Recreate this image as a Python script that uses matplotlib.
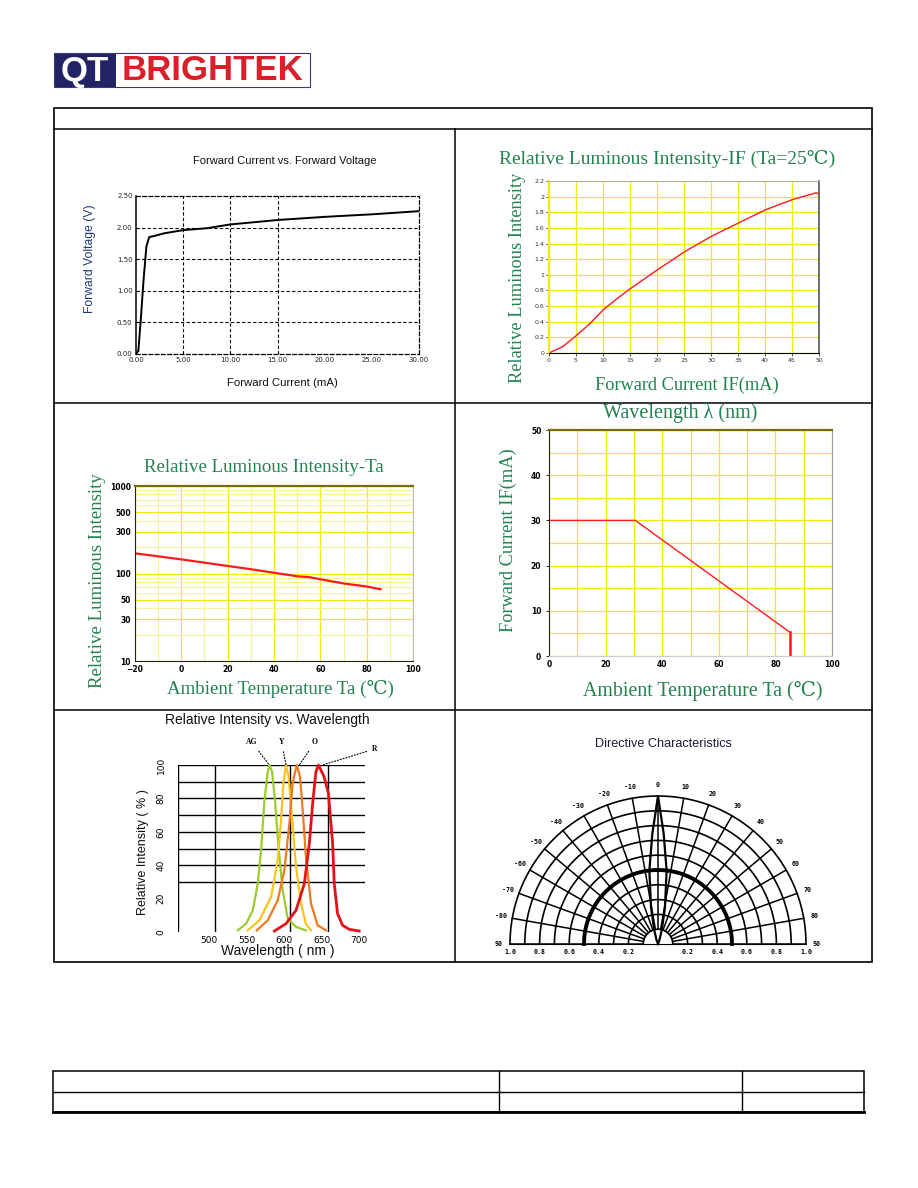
import numpy as np
import matplotlib
matplotlib.use('Agg')
import matplotlib.pyplot as plt
from matplotlib.patches import Rectangle
from matplotlib.ticker import MultipleLocator, LogLocator, NullFormatter
import matplotlib.transforms as mtransforms

# ------------------------------------------------------------------ data
# 1) Forward current vs forward voltage
fv_current_ma = [0, 0.25, 0.5, 0.8, 1.1, 1.4, 2.0, 3.0, 5.0, 7.5, 10, 15, 20, 25, 28, 30]
fv_voltage_v = [0.0, 0.05, 0.53, 1.17, 1.70, 1.85, 1.87, 1.91, 1.96, 1.99, 2.05, 2.12, 2.17, 2.21, 2.24, 2.26]
fv_xticks = [0, 5, 10, 15, 20, 25, 30]
fv_xticklabels = ['0.00', '5.00', '10.00', '15.00', '20.00', '25.00', '30.00']
fv_yticks = [0, 0.5, 1.0, 1.5, 2.0, 2.5]
fv_yticklabels = ['0.00', '0.50', '1.00', '1.50', '2.00', '2.50']

# 2) Relative luminous intensity vs IF
li_if_ma = [0, 2.5, 5, 7.5, 10, 12.5, 15, 20, 25, 30, 35, 40, 45, 49.5, 50]
li_if_rel = [0, 0.08, 0.22, 0.37, 0.55, 0.69, 0.82, 1.06, 1.29, 1.49, 1.66, 1.83, 1.96, 2.05, 2.03]
li_if_xticks = [0, 5, 10, 15, 20, 25, 30, 35, 40, 45, 50]
li_if_yticks = [0, 0.2, 0.4, 0.6, 0.8, 1.0, 1.2, 1.4, 1.6, 1.8, 2.0, 2.2]
li_if_yticklabels = ['0', '0.2', '0.4', '0.6', '0.8', '1', '1.2', '1.4', '1.6', '1.8', '2', '2.2']

# 3) Relative luminous intensity vs Ta (log)
li_ta_temp = [-20, -10, 0, 10, 20, 30, 40, 50, 55, 60, 70, 80, 86]
li_ta_rel = [170, 157, 145, 133, 122, 112, 102, 93, 91, 86, 77, 71, 66]
li_ta_xticks = [-20, 0, 20, 40, 60, 80, 100]
li_ta_yticks = [10, 30, 50, 100, 300, 500, 1000]
li_ta_yticklabels = ['10', '30', '50', '100', '300', '500', '1000']

# 4) Derating curve
der_temp = [0, 30.5, 85, 85]
der_if = [30, 30, 5.3, 0]
der_xticks = [0, 20, 40, 60, 80, 100]
der_yticks = [0, 10, 20, 30, 40, 50]

# 5) Spectra
spec_names = ['AG', 'Y', 'O', 'R']
ag_nm = [530, 541, 550, 556.7, 561, 565.6, 570, 572.2, 575.8, 580, 584.7, 590, 596.7, 607.8, 621]
ag_int = [1, 5, 13, 29, 49, 79, 96, 100, 96, 77, 49, 25, 8, 3, 1]
y_nm = [543.3, 558.9, 574.4, 583.3, 587.8, 590.9, 594.4, 598, 602.4, 607.8, 614.4, 621, 627.8]
y_int = [1, 7, 21, 43, 67, 89, 100, 93, 69, 39, 17, 5, 1]
o_nm = [555.3, 570, 583.3, 592.2, 598.9, 603.3, 608.7, 613.1, 616.7, 621, 627.8, 636.7, 647.8]
o_int = [1, 7, 19, 37, 65, 89, 100, 93, 73, 45, 17, 4, 1]
r_nm = [578.9, 594.4, 607.8, 618.9, 625.6, 630, 634.4, 637.8, 645.3, 651.1, 656.7, 658.9, 663.3, 670, 678.9, 692.2]
r_int = [0.6, 5, 13, 29, 53, 77, 96, 100, 93, 83, 53, 29, 11, 4, 1.6, 0.6]
spec_xticks = [500, 550, 600, 650, 700]
spec_yticks = [0, 20, 40, 60, 80, 100]
spec_label_pos = [(548.5, 113.6), (588.6, 113.6), (633.0, 113.6), (713.0, 109.6)]
spec_label_target = [(572.2, 100), (594.4, 100), (612.2, 100), (643.3, 100)]

# 6) Directive characteristics
dir_angles = [-90, -80, -70, -60, -50, -40, -30, -20, -10, 0, 10, 20, 30, 40, 50, 60, 70, 80, 90]
dir_rings = [0.1, 0.2, 0.3, 0.4, 0.5, 0.6, 0.7, 0.8, 0.9, 1.0]
dir_r_labels = ['0.2', '0.4', '0.6', '0.8', '1.0']
dir_r_label_vals = [0.2, 0.4, 0.6, 0.8, 1.0]
lobe_deg = [-30, -20, -15, -10.8, -6.7, -2.9, 0, 2.9, 6.7, 10.8, 15, 20, 30]
lobe_int = [0, 0.03, 0.1, 0.25, 0.5, 0.75, 1.0, 0.75, 0.5, 0.25, 0.1, 0.03, 0]

# ------------------------------------------------------------------ figure
W, H = 918, 1188
fig = plt.figure(figsize=(W / 100, H / 100), dpi=100)
fig.patch.set_facecolor('white')

SERIF = ['Liberation Serif', 'DejaVu Serif', 'DejaVu Sans']
SANS = ['Liberation Sans', 'DejaVu Sans']
GREEN = '#23834f'
YEL = '#f0ea10'
YEL_L = '#f6f29a'
RED = '#ff1a1a'


def px_axes(x0, y0, x1, y1, **kw):
    return fig.add_axes([x0 / W, 1 - y1 / H, (x1 - x0) / W, (y1 - y0) / H], **kw)


page = fig.add_axes([0, 0, 1, 1])
page.set_xlim(0, W)
page.set_ylim(H, 0)
page.axis('off')
page.set_zorder(-1)

# logo
page.add_patch(Rectangle((54, 53), 62, 34, fc='#232264', ec='none'))
page.add_patch(Rectangle((54, 53), 256, 34, fc='none', ec='#3a3a7a', lw=0.8))
page.text(85, 71, 'QT', color='white', fontsize=25, fontweight='bold', family=SANS,
          ha='center', va='center')
page.text(213, 71, 'BRIGHTEK', color='#d8202a', fontsize=25, fontweight='bold', family=SANS,
          ha='center', va='center')

# main table
page.add_patch(Rectangle((54, 108), 818, 854, fc='none', ec='black', lw=1.2))
page.plot([54, 872], [129, 129], color='black', lw=1.1)
page.plot([455, 455], [129, 962], color='black', lw=1.1)
page.plot([54, 872], [403, 403], color='black', lw=1.1)
page.plot([54, 872], [710, 710], color='black', lw=1.1)

# bottom table
page.add_patch(Rectangle((53, 1071), 811, 41, fc='none', ec='black', lw=1.1))
page.plot([53, 864], [1092, 1092], color='black', lw=1.0)
page.plot([499, 499], [1071, 1112], color='black', lw=1.0)
page.plot([742, 742], [1071, 1112], color='black', lw=1.0)
page.plot([53, 864], [1112, 1112], color='black', lw=2.0)

# ---------------------------------------------------------------- chart 1
ax1 = px_axes(136, 196, 419, 354)
dash = (0, (3, 2))
for v in fv_yticks[1:-1]:
    ax1.axhline(v, color='black', lw=0.8, ls=dash)
for v in fv_xticks[1:4]:
    ax1.axvline(v, color='black', lw=0.8, ls=dash)
ax1.plot(fv_current_ma, fv_voltage_v, color='black', lw=1.4)
ax1.set_xlim(0, 30)
ax1.set_ylim(0, 2.5)
ax1.set_xticks(fv_xticks, fv_xticklabels)
ax1.set_yticks(fv_yticks, fv_yticklabels)
ax1.tick_params(length=0, labelsize=5, pad=2.5, colors='#222222')
for s in ['top', 'right', 'bottom']:
    ax1.spines[s].set_linestyle(dash)
    ax1.spines[s].set_linewidth(0.9)
ax1.spines['left'].set_linewidth(1.1)

page.text(285, 161, 'Forward Current vs. Forward Voltage', ha='center', va='center',
          fontsize=8, family=SANS, color='#111111')
page.text(90, 259, 'Forward Voltage (V)', ha='center', va='center', rotation=90,
          fontsize=8.7, family=SANS, color='#1f3a7a')
page.text(282, 383, 'Forward Current (mA)', ha='center', va='center',
          fontsize=8.2, family=SANS, color='#111111')

# ---------------------------------------------------------------- chart 2
ax2 = px_axes(549, 181, 819, 353)
ax2.set_xlim(0, 50)
ax2.set_ylim(0, 2.2)
ax2.set_xticks(li_if_xticks)
ax2.set_yticks(li_if_yticks, li_if_yticklabels)
ax2.grid(color=YEL, lw=0.9)
ax2.set_axisbelow(True)
ax2.plot(li_if_ma, li_if_rel, color=RED, lw=1.0)
ax2.tick_params(length=2, width=0.6, labelsize=4.5, pad=1.5, colors='#333333')
ax2.spines['left'].set_color(YEL)
ax2.spines['left'].set_linewidth(1.5)
ax2.spines['bottom'].set_color('black')
ax2.spines['right'].set_color('#555555')
ax2.spines['right'].set_linewidth(1.2)
ax2.spines['top'].set_color('#aaaaaa')
ax2.spines['top'].set_linewidth(0.7)

page.text(667, 159, 'Relative Luminous Intensity-IF (Ta=25\u2103)', ha='center', va='center',
          fontsize=14, family=SERIF, color=GREEN)
page.text(517, 278, 'Relative Luminous Intensity', ha='center', va='center', rotation=90,
          fontsize=13.2, family=SERIF, color=GREEN)
page.text(687, 385, 'Forward Current IF(mA)', ha='center', va='center',
          fontsize=13.2, family=SERIF, color=GREEN)

# ---------------------------------------------------------------- chart 3
ax3 = px_axes(135, 486, 413, 661)
ax3.set_yscale('log')
ax3.set_xlim(-20, 100)
ax3.set_ylim(10, 1000)
ax3.set_xticks(li_ta_xticks)
ax3.xaxis.set_minor_locator(MultipleLocator(10))
ax3.set_yticks(li_ta_yticks, li_ta_yticklabels)
ax3.yaxis.set_minor_locator(LogLocator(base=10, subs=(2, 3, 4, 5, 6, 7, 8, 9)))
ax3.yaxis.set_minor_formatter(NullFormatter())
ax3.grid(which='minor', color=YEL_L, lw=0.8)
ax3.grid(which='major', color=YEL, lw=0.9)
ax3.set_axisbelow(True)
ax3.plot(li_ta_temp, li_ta_rel, color=RED, lw=1.6)
ax3.tick_params(which='both', length=0)
ax3.tick_params(labelsize=5.5, pad=3)
for lab in ax3.get_xticklabels() + ax3.get_yticklabels():
    lab.set_fontweight('bold')
ax3.spines['top'].set_color('#7a6c00')
ax3.spines['top'].set_linewidth(1.6)
ax3.spines['right'].set_color('#bbbbbb')
ax3.spines['left'].set_color('#222222')
ax3.spines['bottom'].set_color('#222222')

page.text(264, 467, 'Relative Luminous Intensity-Ta', ha='center', va='center',
          fontsize=13.6, family=SERIF, color=GREEN)
page.text(97, 581, 'Relative Luminous Intensity', ha='center', va='center', rotation=90,
          fontsize=13.6, family=SERIF, color=GREEN)
page.text(280, 689, 'Ambient Temperature Ta (\u2103)', ha='center', va='center',
          fontsize=13.6, family=SERIF, color=GREEN)

# ---------------------------------------------------------------- chart 4
ax4 = px_axes(549, 430, 832, 656)
ax4.set_xlim(0, 100)
ax4.set_ylim(0, 50)
ax4.set_xticks(der_xticks)
ax4.set_yticks(der_yticks)
ax4.xaxis.set_minor_locator(MultipleLocator(10))
ax4.yaxis.set_minor_locator(MultipleLocator(5))
ax4.grid(which='both', color=YEL, lw=0.9)
ax4.set_axisbelow(True)
ax4.plot(der_temp[:3], der_if[:3], color=RED, lw=1.0)
ax4.plot(der_temp[2:], der_if[2:], color=RED, lw=1.8)
ax4.tick_params(which='major', axis='y', length=2.5, width=0.6)
ax4.tick_params(which='major', axis='x', length=0)
ax4.tick_params(which='minor', length=0)
ax4.tick_params(labelsize=5.5, pad=3)
for lab in ax4.get_xticklabels() + ax4.get_yticklabels():
    lab.set_fontweight('bold')
ax4.spines['top'].set_color('#7a6c00')
ax4.spines['top'].set_linewidth(1.6)
ax4.spines['right'].set_color('#999999')
ax4.spines['left'].set_color('#222222')
ax4.spines['bottom'].set_color('#cccccc')

page.text(680, 413, 'Wavelength \u03bb (nm)', ha='center', va='center',
          fontsize=14.5, family=SERIF, color=GREEN)
page.text(508, 540, 'Forward Current IF(mA)', ha='center', va='center', rotation=90,
          fontsize=13.2, family=SERIF, color=GREEN)
page.text(703, 691, 'Ambient Temperature Ta (\u2103)', ha='center', va='center',
          fontsize=14.3, family=SERIF, color=GREEN)

# ---------------------------------------------------------------- chart 5
ax5 = px_axes(178, 765, 365, 932)
ax5.set_xlim(450, 700)
ax5.set_ylim(0, 100)
for v in [30, 40, 50, 60, 70, 80, 90, 100]:
    ax5.axhline(v, color='black', lw=1.0)
for v in [450, 500, 600, 650]:
    ax5.axvline(v, color='black', lw=1.0)
ax5.plot(ag_nm, ag_int, color='#9ccc2a', lw=1.6, clip_on=False)
ax5.plot(y_nm, y_int, color='#f6c41c', lw=1.6, clip_on=False)
ax5.plot(o_nm, o_int, color='#ee7a1e', lw=1.6, clip_on=False)
ax5.plot(r_nm, r_int, color='#e41218', lw=2.0, clip_on=False)
for name, (tx, ty), (px, py) in zip(spec_names, spec_label_pos, spec_label_target):
    ax5.annotate(name, xy=(px, py), xytext=(tx, ty), fontsize=5.5, fontweight='bold',
                 family=SERIF, ha='center', va='center', annotation_clip=False,
                 arrowprops=dict(arrowstyle='-', ls=':', color='black', lw=0.8,
                                 shrinkA=2, shrinkB=0))
ax5.set_xticks(spec_xticks)
ax5.set_yticks(spec_yticks)
ax5.tick_params(axis='x', length=0, labelsize=6.5, pad=3)
ax5.tick_params(axis='y', length=0, labelsize=6.5, pad=9)
off = mtransforms.ScaledTranslation(-6 / 100, 0, fig.dpi_scale_trans)
for lab in ax5.get_xticklabels():
    lab.set_transform(lab.get_transform() + off)
for lab in ax5.get_yticklabels():
    lab.set_rotation(90)
    lab.set_va('center')
for s in ax5.spines.values():
    s.set_visible(False)

page.text(267, 720, 'Relative Intensity vs. Wavelength', ha='center', va='center',
          fontsize=10, family=SANS, color='#111111')
page.text(143, 852, 'Relative Intensity ( % )', ha='center', va='center', rotation=90,
          fontsize=9, family=SANS, color='#111111')
page.text(278, 951, 'Wavelength ( nm )', ha='center', va='center',
          fontsize=10, family=SANS, color='#111111')

# ---------------------------------------------------------------- chart 6
# square box: the half-disc fills its width and sits in its middle
ax6 = px_axes(510, 722, 806, 1018, projection='polar')
ax6.set_theta_zero_location('N')
ax6.set_theta_direction(-1)
ax6.set_thetamin(-90)
ax6.set_thetamax(90)
ax6.set_ylim(0, 1)
ax6.grid(False)
ax6.set_xticks([])
ax6.set_yticks([])
for s in ax6.spines.values():
    s.set_visible(False)
ax6.patch.set_visible(False)

theta = np.linspace(-np.pi / 2, np.pi / 2, 241)
for r in dir_rings:
    ax6.plot(theta, np.full_like(theta, r), color='black',
             lw=2.8 if abs(r - 0.5) < 1e-9 else 1.2, clip_on=False)
for a in dir_angles:
    t = np.deg2rad(a)
    ax6.plot([t, t], [dir_rings[0], dir_rings[-1]], color='black', lw=1.1, clip_on=False)
ax6.plot(np.deg2rad(lobe_deg), lobe_int, color='black', lw=1.6, clip_on=False)

for a in dir_angles:
    ax6.text(np.deg2rad(a), 1.075, str(a) if a != -90 else '90', ha='center', va='center',
             fontsize=4.8, fontweight='bold', family='DejaVu Sans Mono')
for lbl, r in zip(dir_r_labels, dir_r_label_vals):
    for side in (-90, 90):
        ax6.annotate(lbl, xy=(np.deg2rad(side), r), xytext=(0, -5.5), textcoords='offset points',
                     ha='center', va='center', fontsize=4.8, fontweight='bold',
                     family='DejaVu Sans Mono', annotation_clip=False)

page.text(663, 744, 'Directive Characteristics', ha='center', va='center',
          fontsize=9.1, family=SANS, color='#1c1c3a')

fig.savefig('out.png', dpi=100)
